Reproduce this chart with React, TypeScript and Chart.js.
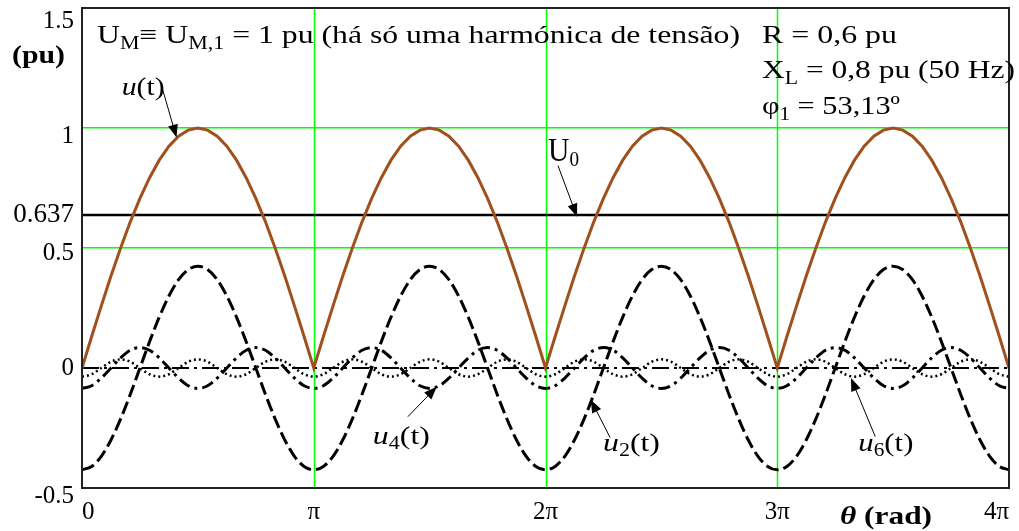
import { useEffect, useRef } from "react";
import { Chart, registerables } from "chart.js";

Chart.register(...registerables);

// sample spacing of the curves, in units of π (θ = i·π/24)
const THETA_STEP = 1 / 24;

// u(t) – full-wave rectified voltage (pu)
const uT = [
  0, 0.131, 0.259, 0.383, 0.5, 0.609, 0.707, 0.793, 0.866, 0.924, 0.966, 0.991, 1, 0.991, 0.966, 0.924, 0.866, 0.793, 0.707, 0.609, 0.5, 0.383, 0.259, 0.131,
  0, 0.131, 0.259, 0.383, 0.5, 0.609, 0.707, 0.793, 0.866, 0.924, 0.966, 0.991, 1, 0.991, 0.966, 0.924, 0.866, 0.793, 0.707, 0.609, 0.5, 0.383, 0.259, 0.131,
  0, 0.131, 0.259, 0.383, 0.5, 0.609, 0.707, 0.793, 0.866, 0.924, 0.966, 0.991, 1, 0.991, 0.966, 0.924, 0.866, 0.793, 0.707, 0.609, 0.5, 0.383, 0.259, 0.131,
  0, 0.131, 0.259, 0.383, 0.5, 0.609, 0.707, 0.793, 0.866, 0.924, 0.966, 0.991, 1, 0.991, 0.966, 0.924, 0.866, 0.793, 0.707, 0.609, 0.5, 0.383, 0.259, 0.131,
  0,
];

// u2(t) – 2nd harmonic
const u2 = [
  -0.424, -0.41, -0.368, -0.3, -0.212, -0.11, 0, 0.11, 0.212, 0.3, 0.368, 0.41, 0.424, 0.41, 0.368, 0.3, 0.212, 0.11, 0, -0.11, -0.212, -0.3, -0.368, -0.41,
  -0.424, -0.41, -0.368, -0.3, -0.212, -0.11, 0, 0.11, 0.212, 0.3, 0.368, 0.41, 0.424, 0.41, 0.368, 0.3, 0.212, 0.11, 0, -0.11, -0.212, -0.3, -0.368, -0.41,
  -0.424, -0.41, -0.368, -0.3, -0.212, -0.11, 0, 0.11, 0.212, 0.3, 0.368, 0.41, 0.424, 0.41, 0.368, 0.3, 0.212, 0.11, 0, -0.11, -0.212, -0.3, -0.368, -0.41,
  -0.424, -0.41, -0.368, -0.3, -0.212, -0.11, 0, 0.11, 0.212, 0.3, 0.368, 0.41, 0.424, 0.41, 0.368, 0.3, 0.212, 0.11, 0, -0.11, -0.212, -0.3, -0.368, -0.41,
  -0.424,
];

// u4(t) – 4th harmonic
const u4 = [
  -0.085, -0.074, -0.042, 0, 0.042, 0.074, 0.085, 0.074, 0.042, 0, -0.042, -0.074, -0.085, -0.074, -0.042, 0, 0.042, 0.074, 0.085, 0.074, 0.042, 0, -0.042, -0.074,
  -0.085, -0.074, -0.042, 0, 0.042, 0.074, 0.085, 0.074, 0.042, 0, -0.042, -0.074, -0.085, -0.074, -0.042, 0, 0.042, 0.074, 0.085, 0.074, 0.042, 0, -0.042, -0.074,
  -0.085, -0.074, -0.042, 0, 0.042, 0.074, 0.085, 0.074, 0.042, 0, -0.042, -0.074, -0.085, -0.074, -0.042, 0, 0.042, 0.074, 0.085, 0.074, 0.042, 0, -0.042, -0.074,
  -0.085, -0.074, -0.042, 0, 0.042, 0.074, 0.085, 0.074, 0.042, 0, -0.042, -0.074, -0.085, -0.074, -0.042, 0, 0.042, 0.074, 0.085, 0.074, 0.042, 0, -0.042, -0.074,
  -0.085,
];

// u6(t) – 6th harmonic
const u6 = [
  -0.036, -0.026, 0, 0.026, 0.036, 0.026, 0, -0.026, -0.036, -0.026, 0, 0.026, 0.036, 0.026, 0, -0.026, -0.036, -0.026, 0, 0.026, 0.036, 0.026, 0, -0.026,
  -0.036, -0.026, 0, 0.026, 0.036, 0.026, 0, -0.026, -0.036, -0.026, 0, 0.026, 0.036, 0.026, 0, -0.026, -0.036, -0.026, 0, 0.026, 0.036, 0.026, 0, -0.026,
  -0.036, -0.026, 0, 0.026, 0.036, 0.026, 0, -0.026, -0.036, -0.026, 0, 0.026, 0.036, 0.026, 0, -0.026, -0.036, -0.026, 0, 0.026, 0.036, 0.026, 0, -0.026,
  -0.036, -0.026, 0, 0.026, 0.036, 0.026, 0, -0.026, -0.036, -0.026, 0, 0.026, 0.036, 0.026, 0, -0.026, -0.036, -0.026, 0, 0.026, 0.036, 0.026, 0, -0.026,
  -0.036,
];

// U0 – mean value, and the zero reference, over the whole span (θ in π units)
const U0_VALUE = 0.637;
const SPAN = [0, 4];
const ZERO_VALUE = 0;

const xTickLabels = ["0", "π", "2π", "3π", "4π"];
const yTickValues = [-0.5, 0, 0.5, 0.637, 1, 1.5];
const yTickLabels = ["-0.5", "0", "0.5", "0.637", "1", "1.5"];

const SERIF = '"Liberation Serif", "Times New Roman", serif';

type Run = { t: string; f: string; dy?: number };

function drawRich(ctx: CanvasRenderingContext2D, x: number, y: number, runs: Run[], width?: number) {
  let total = 0;
  for (const r of runs) {
    ctx.font = r.f;
    total += ctx.measureText(r.t).width;
  }
  const sx = width ? width / total : 1;
  ctx.save();
  ctx.translate(x, y);
  ctx.scale(sx, 1);
  ctx.fillStyle = "#000";
  ctx.textAlign = "left";
  ctx.textBaseline = "alphabetic";
  let cx = 0;
  for (const r of runs) {
    ctx.font = r.f;
    ctx.fillText(r.t, cx, r.dy || 0);
    cx += ctx.measureText(r.t).width;
  }
  ctx.restore();
}

function arrow(ctx: CanvasRenderingContext2D, x1: number, y1: number, x2: number, y2: number) {
  const a = Math.atan2(y2 - y1, x2 - x1);
  const L = 13;
  const W = 5;
  ctx.save();
  ctx.strokeStyle = "#000";
  ctx.fillStyle = "#000";
  ctx.lineWidth = 1;
  ctx.beginPath();
  ctx.moveTo(x1, y1);
  ctx.lineTo(x2 - Math.cos(a) * L * 0.8, y2 - Math.sin(a) * L * 0.8);
  ctx.stroke();
  ctx.beginPath();
  ctx.moveTo(x2, y2);
  ctx.lineTo(x2 - Math.cos(a) * L - Math.sin(a) * W, y2 - Math.sin(a) * L + Math.cos(a) * W);
  ctx.lineTo(x2 - Math.cos(a) * L + Math.sin(a) * W, y2 - Math.sin(a) * L - Math.cos(a) * W);
  ctx.closePath();
  ctx.fill();
  ctx.restore();
}

const it = (s: number) => `italic ${s}px ${SERIF}`;
const rg = (s: number) => `${s}px ${SERIF}`;

// annotations in data coordinates (x in π units, y in pu)
const curveLabels = [
  { runs: [{ t: "u", f: it(26) }, { t: "(t)", f: rg(26) }], at: [0.171, 1.139], w: 43, from: [0.348, 1.16], to: [0.408, 0.96] },
  { runs: [{ t: "U", f: rg(34) }, { t: "0", f: rg(22), dy: 5 }], at: [2.011, 0.864], w: 31, from: [2.054, 0.843], to: [2.136, 0.63] },
  { runs: [{ t: "u", f: it(26) }, { t: "4", f: rg(18), dy: 5 }, { t: "(t)", f: rg(26) }], at: [1.255, -0.315], w: 57, from: [1.406, -0.203], to: [1.531, -0.078] },
  { runs: [{ t: "u", f: it(26) }, { t: "2", f: rg(18), dy: 5 }, { t: "(t)", f: rg(26) }], at: [2.248, -0.344], w: 57, from: [2.279, -0.29], to: [2.195, -0.132] },
  { runs: [{ t: "u", f: it(26) }, { t: "6", f: rg(18), dy: 5 }, { t: "(t)", f: rg(26) }], at: [3.35, -0.344], w: 55, from: [3.423, -0.286], to: [3.318, -0.042] },
];

const yLabelShift: Record<string, number> = { "1.5": 13, "1": 8, "0.5": 5, "-0.5": 8 };

export default function App() {
  const ref = useRef<HTMLCanvasElement | null>(null);

  useEffect(() => {
    if (!ref.current) return;
    const pts = (vals: number[]) => vals.map((y, i) => ({ x: i * THETA_STEP, y }));

    const overlay = {
      id: "overlay",
      beforeDatasetsDraw(chart: any) {
        const ctx: CanvasRenderingContext2D = chart.ctx;
        const { top, bottom } = chart.chartArea;
        const xs = chart.scales.x;
        ctx.save();
        ctx.strokeStyle = "#00FF00";
        ctx.lineWidth = 1.5;
        for (const t of xs.ticks) {
          if (t.value <= xs.min || t.value >= xs.max) continue;
          const p = Math.round(xs.getPixelForValue(t.value)) + 0.5;
          ctx.beginPath();
          ctx.moveTo(p, top);
          ctx.lineTo(p, bottom);
          ctx.stroke();
        }
        ctx.restore();
      },
      afterDraw(chart: any) {
        const ctx: CanvasRenderingContext2D = chart.ctx;
        const { left, right, top, bottom } = chart.chartArea;
        const xs = chart.scales.x;
        const ys = chart.scales.y;
        // frame
        ctx.save();
        ctx.strokeStyle = "#222";
        ctx.lineWidth = 2;
        ctx.strokeRect(left, top, right - left, bottom - top);
        ctx.restore();

        drawRich(ctx, left + 15, top + 35, [
          { t: "U", f: rg(26) },
          { t: "M", f: rg(18), dy: 6 },
          { t: "≡ U", f: rg(26) },
          { t: "M,1", f: rg(18), dy: 6 },
          { t: " = 1 pu (há só uma harmónica de tensão)", f: rg(26) },
        ], 643);
        drawRich(ctx, 762, 43, [{ t: "R = 0,6 pu", f: rg(26) }], 135);
        drawRich(ctx, 762, 78, [{ t: "X", f: rg(26) }, { t: "L", f: rg(18), dy: 6 }, { t: " = 0,8 pu (50 Hz)", f: rg(26) }], 253);
        drawRich(ctx, 762, 114, [{ t: "φ", f: rg(26) }, { t: "1", f: rg(18), dy: 6 }, { t: " = 53,13º", f: rg(26) }], 138);
        drawRich(ctx, 12, 63, [{ t: "(pu)", f: `bold 26px ${SERIF}` }], 53);
        drawRich(ctx, 840, 524, [{ t: "θ", f: `bold italic 26px ${SERIF}` }, { t: " (rad)", f: `bold 26px ${SERIF}` }], 92);

        for (const c of curveLabels) {
          drawRich(ctx, xs.getPixelForValue(c.at[0]), ys.getPixelForValue(c.at[1]), c.runs, c.w);
          arrow(ctx, xs.getPixelForValue(c.from[0]), ys.getPixelForValue(c.from[1]), xs.getPixelForValue(c.to[0]), ys.getPixelForValue(c.to[1]));
        }
      },
    };

    const chart = new Chart(ref.current, {
      type: "line",
      data: {
        datasets: [
          { label: "u(t)", data: pts(uT), borderColor: "#A0501C", borderWidth: 3, pointRadius: 0, tension: 0, fill: false },
          { label: "U0", data: SPAN.map((x) => ({ x, y: U0_VALUE })), borderColor: "#000", borderWidth: 2.5, pointRadius: 0, fill: false },
          { label: "u2(t)", data: pts(u2), borderColor: "#000", borderWidth: 3, borderDash: [13, 5], pointRadius: 0, cubicInterpolationMode: "monotone", fill: false },
          { label: "u4(t)", data: pts(u4), borderColor: "#000", borderWidth: 3, borderDash: [12, 5, 3, 5], pointRadius: 0, cubicInterpolationMode: "monotone", fill: false },
          { label: "u6(t)", data: pts(u6), borderColor: "#000", borderWidth: 2.5, borderDash: [2, 3], pointRadius: 0, cubicInterpolationMode: "monotone", fill: false },
          { label: "zero", data: SPAN.map((x) => ({ x, y: ZERO_VALUE })), borderColor: "#000", borderWidth: 2, borderDash: [17, 5, 3, 5], pointRadius: 0, fill: false },
        ],
      },
      options: {
        responsive: false,
        animation: false,
        events: [],
        layout: { padding: { left: 0, top: 8, right: 10, bottom: 0 } },
        plugins: { legend: { display: false }, tooltip: { enabled: false } },
        scales: {
          x: {
            type: "linear",
            min: 0,
            max: 4,
            afterBuildTicks: (s: any) => {
              s.ticks = xTickLabels.map((_, i) => ({ value: i }));
            },
            afterFit: (s: any) => {
              s.height = 43;
              s.paddingLeft = 0;
              s.paddingRight = 0;
            },
            ticks: {
              callback: (_v: any, i: number) => xTickLabels[i],
              align: "inner",
              autoSkip: false,
              maxRotation: 0,
              padding: 9,
              color: "#000",
              font: { family: SERIF, size: 25 },
            },
            grid: { display: false, drawTicks: false },
            border: { display: false },
          },
          y: {
            type: "linear",
            min: -0.5,
            max: 1.5,
            afterBuildTicks: (s: any) => {
              s.ticks = yTickValues.map((v) => ({ value: v }));
            },
            afterFit: (s: any) => {
              s.width = 82;
              s.paddingTop = 0;
              s.paddingBottom = 0;
            },
            ticks: {
              autoSkip: false,
              padding: 8,
              color: "#000",
              callback: (_v: any, i: number) => {
                const lab = yTickLabels[i];
                return yLabelShift[lab] ? ["", lab] : lab;
              },
              font: (ctx: any) => {
                const v = ctx.tick ? ctx.tick.value : 0;
                const i = yTickValues.indexOf(v);
                const lab = yTickLabels[i] || "";
                const size = lab === "0.637" ? 27 : 25;
                const sh = yLabelShift[lab];
                return { family: SERIF, size, lineHeight: sh ? (2 * sh) / size : 1.2 };
              },
            },
            grid: {
              color: (ctx: any) => (ctx.tick && (ctx.tick.value === 0.5 || ctx.tick.value === 1) ? "#00FF00" : "rgba(0,0,0,0)"),
              lineWidth: 1.5,
              drawTicks: false,
            },
            border: { display: false },
          },
        },
      } as any,
      plugins: [overlay],
    });
    return () => chart.destroy();
  }, []);

  return (
    <div style={{ position: "fixed", left: 0, top: 0, width: 1019, height: 531, background: "#fff" }}>
      <canvas ref={ref} width={1019} height={531} style={{ display: "block" }} />
    </div>
  );
}
